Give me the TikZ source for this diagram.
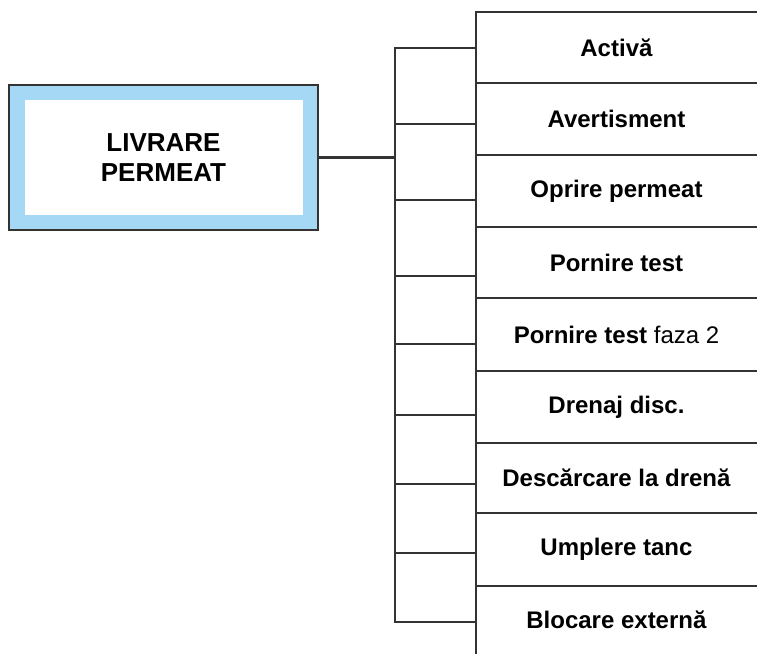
\documentclass[tikz,border=0pt]{standalone}
\usepackage{fontspec}
\setmainfont{Liberation Sans}
\usepackage{xcolor}
\usetikzlibrary{positioning}
\definecolor{framebg}{RGB}{164,216,244}

\begin{document}
\begin{tikzpicture}[x=1pt, y=-1pt, line width=2.8pt,
  wire/.style={draw=black!80, line cap=rect},
  rowbox/.style={minimum width=281pt, inner sep=0pt, outer sep=0pt,
    font=\fontsize{24}{28}\selectfont}]
  \useasboundingbox (0,0) rectangle (757,654);

  % source block: blue frame round a white panel
  \node[draw=black!80, fill=framebg, minimum width=309pt, minimum height=145pt,
    inner sep=0pt, outer sep=0pt] (src) at (163.5,157.5) {};
  \node[fill=white, minimum width=278pt, minimum height=115pt, align=center,
    font=\fontsize{26}{30}\selectfont\bfseries] (srctxt) at (src.center) {LIVRARE\\PERMEAT};

  % bus
  \coordinate (bustop) at (395,48);
  \coordinate (busbot) at (395,622);
  \draw[wire] (bustop) -- (busbot);
  \draw[wire] (src.east) -- (bustop |- src.east);

  % states, one row each
  \foreach \name/\c/\h/\ty/\txt in {
      r1/47.5/71/48/{\textbf{Activă}},
      r2/119/72/124/{\textbf{Avertisment}},
      r3/191/72/200/{\textbf{Oprire permeat}},
      r4/262.5/71/276/{\textbf{Pornire test}},
      r5/334.5/73/344/{\textbf{Pornire test} faza 2},
      r6/407/72/415/{\textbf{Drenaj disc.}},
      r7/478/70/484/{\textbf{Descărcare la drenă}},
      r8/549.5/73/553/{\textbf{Umplere tanc}},
      r9/619.5/67/622/{\textbf{Blocare externă}}}{
    \node[rowbox, minimum height=\h pt] (\name) at (616.5,\c) {\txt};
    \draw[wire] (\name.north west) -- (\name.north east);
    \draw[wire] (bustop |- 0,\ty) -- (\name.west |- 0,\ty);
  }
  \draw[wire] (r1.north west) -- (r9.south west);
\end{tikzpicture}
\end{document}
